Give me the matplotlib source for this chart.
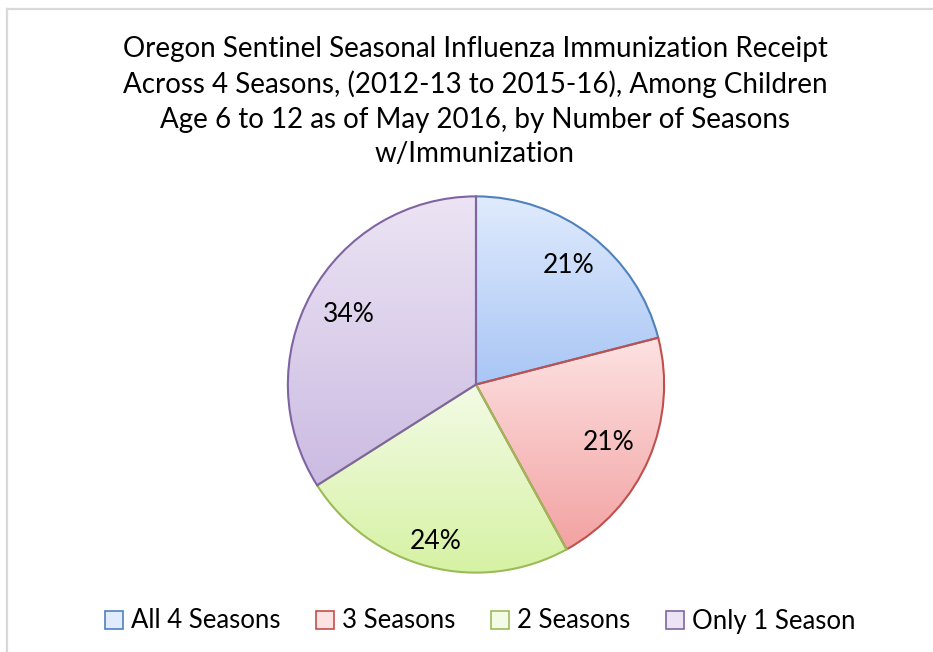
import numpy as np
import matplotlib
matplotlib.use("Agg")
import matplotlib.pyplot as plt
from matplotlib.colors import LinearSegmentedColormap
from matplotlib.patches import Rectangle
from matplotlib.lines import Line2D

plt.rcParams['font.family'] = ['Lato', 'DejaVu Sans']

labels = ["All 4 Seasons", "3 Seasons", "2 Seasons", "Only 1 Season"]
shares = [21, 21, 24, 34]
top_colors = ["#e0ebfd", "#fde2e2", "#f3fbe6", "#ece4f4"]
bottom_colors = ["#a9c6f5", "#f3a2a2", "#d6f2a3", "#cbbbe2"]
edge_colors = ["#4f81bd", "#c0504d", "#9bbb59", "#8064a2"]
label_dist = [0.80, 0.77, 0.86, 0.77]

title = ("Oregon Sentinel Seasonal Influenza Immunization Receipt\n"
         "Across 4 Seasons, (2012-13 to 2015-16), Among Children\n"
         "Age 6 to 12 as of May 2016, by Number of Seasons\n"
         "w/Immunization")

W, H = 933, 652
fig = plt.figure(figsize=(W / 100, H / 100), dpi=100)

# light gray frame (top and left edges visible in the crop)
fig.add_artist(Line2D([7.5 / W, 7.5 / W], [0, 1 - 8.5 / H], color="#d9d9d9", lw=1.6))
fig.add_artist(Line2D([7.5 / W, 1], [1 - 8.5 / H, 1 - 8.5 / H], color="#d9d9d9", lw=1.6))

cx, cy, r = 476, 384.5, 190
ax = fig.add_axes([(cx - r) / W, (H - cy - r) / H, 2 * r / W, 2 * r / H])

wedges, texts, autotexts = ax.pie(shares, startangle=90, counterclock=False,
                                  autopct="%1.0f%%", pctdistance=0.8,
                                  textprops=dict(fontsize=19, color="black"))

for i, w in enumerate(wedges):
    w.set_facecolor("none")
    w.set_edgecolor(edge_colors[i])
    w.set_linewidth(1.5)
    w.set_zorder(3)
    # vertical gradient fill clipped to the wedge
    bb = w.get_path().get_extents(w.get_transform() - ax.transData)
    cmap = LinearSegmentedColormap.from_list("g", [bottom_colors[i], top_colors[i]])
    grad = np.linspace(0, 1, 256).reshape(-1, 1)
    im = ax.imshow(grad, cmap=cmap, origin="lower", aspect="auto",
                   extent=[bb.x0, bb.x1, bb.y0, bb.y1], zorder=2)
    im.set_clip_path(w)
    ang = np.deg2rad((w.theta1 + w.theta2) / 2)
    autotexts[i].set_position((label_dist[i] * np.cos(ang), label_dist[i] * np.sin(ang)))
    autotexts[i].set_zorder(4)

ax.set_xlim(-1.01, 1.01)
ax.set_ylim(-1.01, 1.01)
ax.set_aspect("equal")
ax.axis("off")

fig.text(475 / W, 1 - 36 / H, title, ha="center", va="top", fontsize=20,
         linespacing=1.39)

handles = [Rectangle((0, 0), 1, 1, facecolor=top_colors[i], edgecolor=edge_colors[i], lw=1.2)
           for i in range(len(labels))]
fig.legend(handles, labels, loc="center", bbox_to_anchor=(480 / W, 1 - 621 / H),
           ncol=4, frameon=False, fontsize=18.5, handlelength=0.7, handleheight=0.7,
           handletextpad=0.3, columnspacing=1.4)

fig.savefig("out.png", dpi=100)
